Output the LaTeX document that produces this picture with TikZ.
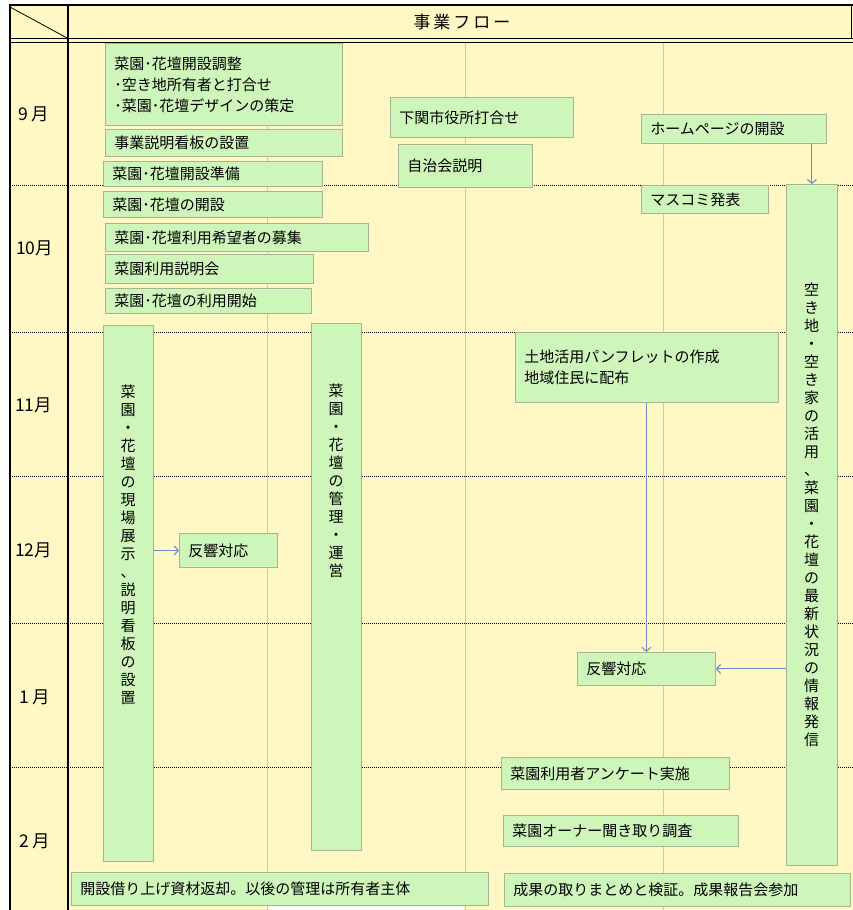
\documentclass[tikz,border=0pt]{standalone}
\usepackage{fontspec}
\setmainfont{Noto Sans CJK JP}
\usetikzlibrary{arrows.meta}
\definecolor{bgy}{RGB}{255,248,196}
\definecolor{boxg}{RGB}{206,245,186}
\definecolor{boxb}{RGB}{165,180,145}
\definecolor{gridc}{RGB}{205,200,180}
\definecolor{arr}{RGB}{110,140,200}
\begin{document}
\begin{tikzpicture}[x=1pt,y=-1pt,
  gbox/.style={draw=boxb, fill=boxg, line width=0.8pt, rectangle, anchor=north west,
    inner xsep=9pt, inner ysep=0pt, align=left, font=\fontsize{15}{21}\selectfont},
  tallbox/.style={draw=boxb, fill=boxg, line width=0.8pt, rectangle, anchor=north west, inner sep=0pt},
  vtext/.style={anchor=north, inner sep=0pt, align=center, font=\fontsize{15}{18}\selectfont},
  month/.style={anchor=west, inner sep=0pt, font=\fontsize{17.5}{17.5}\selectfont},
  flow/.style={draw=arr, line width=1.1pt, -{Straight Barb[length=4pt,width=9pt]}},
  dotline/.style={line width=0.8pt, dash pattern=on 1pt off 1pt},
  gridline/.style={draw=gridc, line width=0.9pt},
]
\useasboundingbox (0,0) rectangle (853,910);
% background
\fill[bgy] (10,5) rectangle (853,910);
\fill[white] (269,905) rectangle (464,910);
% grid
\foreach \gx in {267,465,663} \draw[gridline] (\gx,42) -- (\gx,910);
% month separators
\foreach \gy in {185,332,476,623,767} \draw[dotline] (10,\gy) -- (853,\gy);
% frame
\draw[line width=1pt] (10,38.5) -- (853,38.5);
\draw[line width=1pt] (10,42) -- (853,42);
\draw[line width=1.3pt] (68,5) -- (68,910);
\draw[line width=0.8pt] (851,5) -- (851,38.5);
\draw[line width=0.8pt] (10,7) -- (68,38.5);
\draw[line width=2.5pt] (10,5) -- (853,5);
\draw[line width=2.5pt] (10,4) -- (10,910);
% header
\node[inner sep=0pt, font=\fontsize{17}{17}\selectfont] (title) at (462,22) {事\hspace{3pt}業\hspace{3pt}フ\hspace{3pt}ロ\hspace{3pt}ー};
% months
\node[month] (m9) at (18,114) {9 月};
\node[month] (m10) at (16,248) {10月};
\node[month] (m11) at (15,405) {11月};
\node[month] (m12) at (15,550) {12月};
\node[month] (m1) at (19,697) {1 月};
\node[month] (m2) at (19,841) {2 月};
% left column boxes
\node[gbox, minimum height=82pt, text width=219pt] (b1) at (105,43) {菜園･花壇開設調整\\･空き地所有者と打合せ\\･菜園･花壇デザインの策定};
\node[gbox, minimum height=27pt, text width=219pt] (b2) at (105,129) {事業説明看板の設置};
\node[gbox, minimum height=25pt, text width=201pt] (b3) at (103,161) {菜園･花壇開設準備};
\node[gbox, minimum height=26pt, text width=201pt] (b4) at (103,191) {菜園･花壇の開設};
\node[gbox, minimum height=28pt, text width=245pt] (b5) at (105,223) {菜園･花壇利用希望者の募集};
\node[gbox, minimum height=29pt, text width=190pt] (b6) at (105,254) {菜園利用説明会};
\node[gbox, minimum height=25pt, text width=188pt] (b7) at (105,288) {菜園･花壇の利用開始};
% middle boxes
\node[gbox, minimum height=40pt, text width=165pt] (shimo) at (390,97) {下関市役所打合せ};
\node[gbox, minimum height=43pt, text width=116pt] (jichi) at (398,144) {自治会説明};
\node[gbox, minimum height=29pt, text width=167pt] (hp) at (641,114) {ホームページの開設};
\node[gbox, minimum height=28pt, text width=109pt] (masu) at (641,185) {マスコミ発表};
\node[gbox, minimum height=70pt, text width=245pt] (pamph) at (515,332) {土地活用パンフレットの作成\\地域住民に配布};
% tall boxes
\node[tallbox, minimum width=50pt, minimum height=536pt] (tallL) at (103,325) {};
\node[tallbox, minimum width=50pt, minimum height=527pt] (tallM) at (311,323) {};
\node[tallbox, minimum width=51pt, minimum height=681pt] (tallR) at (786,184) {};
\node[vtext] (tallLt) at (128,385) {菜\\園\\・\\花\\壇\\の\\現\\場\\展\\示\\、\\説\\明\\看\\板\\の\\設\\置};
\node[vtext] (tallMt) at (336,384) {菜\\園\\・\\花\\壇\\の\\管\\理\\・\\運\\営};
\node[vtext] (tallRt) at (811.5,283) {空\\き\\地\\・\\空\\き\\家\\の\\活\\用\\、\\菜\\園\\・\\花\\壇\\の\\最\\新\\状\\況\\の\\情\\報\\発\\信};
% response boxes
\node[gbox, minimum height=34pt, text width=80pt] (hanL) at (179,533) {反響対応};
\node[gbox, minimum height=33pt, text width=120pt] (hanR) at (577,652) {反響対応};
\node[gbox, minimum height=32pt, text width=210pt] (anke) at (501,757) {菜園利用者アンケート実施};
\node[gbox, minimum height=31pt, text width=217pt] (owner) at (503,815) {菜園オーナー聞き取り調査};
\node[gbox, minimum height=33pt, text width=399pt] (endL) at (71,872) {開設借り上げ資材返却。以後の管理は所有者主体};
\node[gbox, minimum height=33pt, text width=328pt] (endR) at (504,873) {成果の取りまとめと検証。成果報告会参加};
% arrows
\draw[flow] (hp.south -| tallR.north) -- (tallR.north);
\draw[flow] (tallL.east |- hanL.west) -- (hanL.west);
\draw[flow] (pamph.south -| hanR.north) -- (hanR.north);
\draw[flow] (tallR.west |- hanR.east) -- (hanR.east);
\end{tikzpicture}
\end{document}
